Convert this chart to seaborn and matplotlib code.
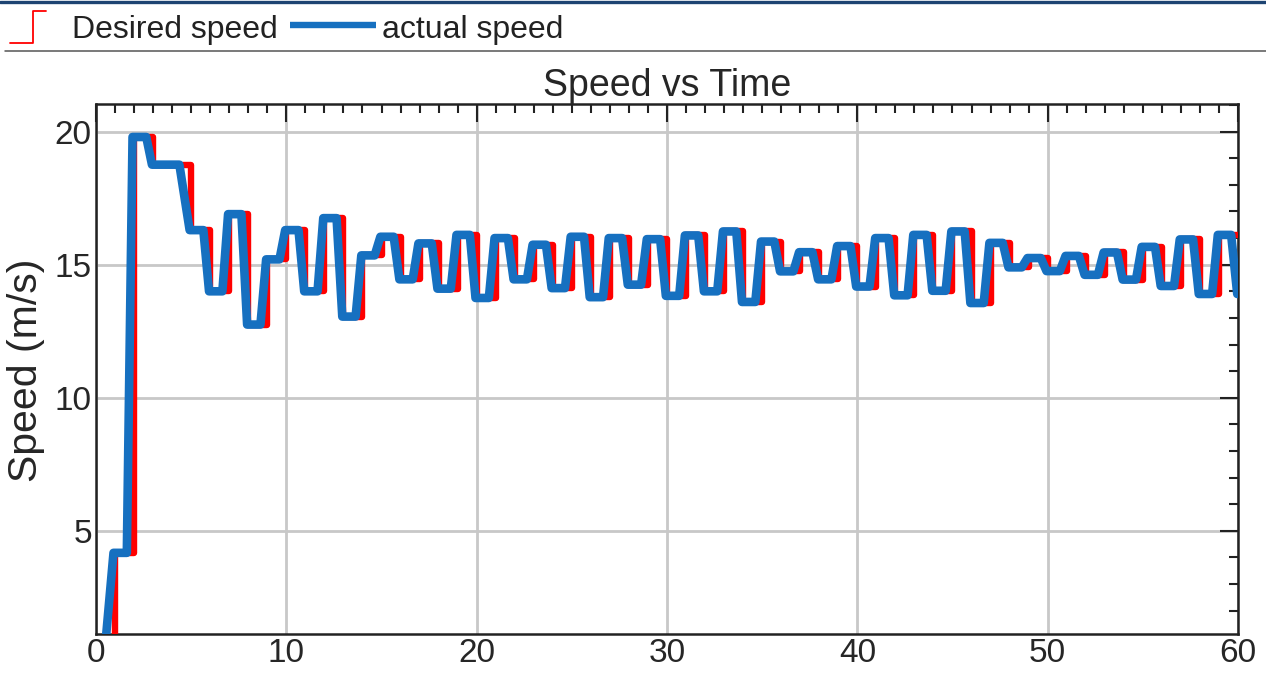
import matplotlib
matplotlib.use("Agg")
import matplotlib.pyplot as plt
from matplotlib.lines import Line2D
from matplotlib.ticker import MultipleLocator
import numpy as np
import pandas as pd
import seaborn as sns

# Desired speed, one set-point per second (held until the next second)
desired_time = list(range(0, 61))
desired_speed = [
    0.00, 4.17, 19.80, 18.76, 18.76, 16.30, 14.00, 16.90, 12.75, 15.20,
    16.30, 14.00, 16.75, 13.05, 15.35, 16.05, 14.45, 15.80, 14.10, 16.12,
    13.75, 16.00, 14.45, 15.75, 14.12, 16.05, 13.78, 16.00, 14.25, 15.96,
    13.83, 16.10, 14.00, 16.25, 13.60, 15.87, 14.75, 15.47, 14.45, 15.70,
    14.18, 16.00, 13.85, 16.12, 14.02, 16.25, 13.56, 15.82, 14.90, 15.25,
    14.76, 15.33, 14.62, 15.46, 14.44, 15.67, 14.20, 15.95, 13.90, 16.12,
    16.12,
]

# Measured (actual) speed samples
actual_time = [
    0.00, 0.40, 0.92, 1.62, 1.92, 2.64, 2.94, 4.38, 4.92, 5.64, 5.94,
    6.64, 6.94, 7.64, 7.94, 8.64, 8.94, 9.64, 9.94, 10.64, 10.94,
    11.64, 11.94, 12.64, 12.94, 13.64, 13.94, 14.64, 14.94, 15.64, 15.94,
    16.64, 16.94, 17.64, 17.94, 18.64, 18.94, 19.64, 19.94, 20.64, 20.94,
    21.64, 21.94, 22.64, 22.94, 23.64, 23.94, 24.64, 24.94, 25.64, 25.94,
    26.64, 26.94, 27.64, 27.94, 28.64, 28.94, 29.64, 29.94, 30.64, 30.94,
    31.64, 31.94, 32.64, 32.94, 33.64, 33.94, 34.64, 34.94, 35.64, 35.94,
    36.64, 36.94, 37.64, 37.94, 38.64, 38.94, 39.64, 39.94, 40.64, 40.94,
    41.64, 41.94, 42.64, 42.94, 43.64, 43.94, 44.64, 44.94, 45.64, 45.94,
    46.64, 46.94, 47.64, 47.94, 48.64, 48.94, 49.64, 49.94, 50.64, 50.94,
    51.64, 51.94, 52.64, 52.94, 53.64, 53.94, 54.64, 54.94, 55.64, 55.94,
    56.64, 56.94, 57.64, 57.94, 58.64, 58.94, 59.64, 59.96,
]
actual_speed = [
    0.00, 0.00, 4.17, 4.17, 19.80, 19.80, 18.76, 18.76, 16.30, 16.30, 14.00,
    14.00, 16.90, 16.90, 12.75, 12.75, 15.20, 15.20, 16.30, 16.30, 14.00,
    14.00, 16.75, 16.75, 13.05, 13.05, 15.35, 15.35, 16.05, 16.05, 14.45,
    14.45, 15.80, 15.80, 14.10, 14.10, 16.12, 16.12, 13.75, 13.75, 16.00,
    16.00, 14.45, 14.45, 15.75, 15.75, 14.12, 14.12, 16.05, 16.05, 13.78,
    13.78, 16.00, 16.00, 14.25, 14.25, 15.96, 15.96, 13.83, 13.83, 16.10,
    16.10, 14.00, 14.00, 16.25, 16.25, 13.60, 13.60, 15.87, 15.87, 14.75,
    14.75, 15.47, 15.47, 14.45, 14.45, 15.70, 15.70, 14.18, 14.18, 16.00,
    16.00, 13.85, 13.85, 16.12, 16.12, 14.02, 14.02, 16.25, 16.25, 13.56,
    13.56, 15.82, 15.82, 14.90, 14.90, 15.25, 15.25, 14.76, 14.76, 15.33,
    15.33, 14.62, 14.62, 15.46, 15.46, 14.44, 14.44, 15.67, 15.67, 14.20,
    14.20, 15.95, 15.95, 13.90, 13.90, 16.12, 16.12, 13.90,
]

x_ticks = [0, 10, 20, 30, 40, 50, 60]
y_ticks = [5, 10, 15, 20]
series_labels = ["Desired speed", "actual speed"]

RED = "#ff0000"
BLUE = "#1670c0"
W, H = 1266, 674

sns.set_theme(style="white")
plt.rcParams["font.family"] = ["Liberation Sans", "DejaVu Sans"]

desired_df = pd.DataFrame({"time": desired_time, "speed": desired_speed})
actual_df = pd.DataFrame({"time": actual_time, "speed": actual_speed})

fig = plt.figure(figsize=(W / 100, H / 100), dpi=100)
ax = fig.add_axes([96 / W, 1 - 634 / H, (1238 - 96) / W, (634 - 104) / H])

sns.lineplot(data=desired_df, x="time", y="speed", drawstyle="steps-post",
             color=RED, lw=4.6, estimator=None, ax=ax, zorder=3)
sns.lineplot(data=actual_df, x="time", y="speed", color=BLUE, lw=6.2,
             estimator=None, sort=False, ax=ax, zorder=4)

ax.set_xlim(0, 60)
ax.set_ylim(1.12, 21.04)
ax.set_xticks(x_ticks)
ax.set_yticks(y_ticks)
ax.xaxis.set_minor_locator(MultipleLocator(1))
ax.yaxis.set_minor_locator(MultipleLocator(1))
ax.tick_params(which="both", direction="in", top=True, right=True,
               color="#222222", width=1.5)
ax.tick_params(which="major", length=13, labelsize=24, pad=3)
ax.tick_params(which="minor", length=6.5)
ax.grid(which="major", color="#c8c8c8", lw=2)
ax.set_axisbelow(True)
for sp in ax.spines.values():
    sp.set_color("#222222")
    sp.set_linewidth(1.8)

ax.set_xlabel("")
ax.set_ylabel("Speed (m/s)", fontsize=29.5)
ax.yaxis.set_label_coords(-0.045, 0.498)
ax.set_title("Speed vs Time", fontsize=27, pad=6)

# Legend strip above the axes
fig.add_artist(Line2D([0, 1], [1 - 1.5 / H] * 2, transform=fig.transFigure,
                      color="#1d4472", lw=2.4))
fig.add_artist(Line2D([5 / W, 1], [1 - 50.5 / H] * 2, transform=fig.transFigure,
                      color="#555555", lw=1.1))
step_x = np.array([10, 33, 33, 46]) / W
step_y = 1 - np.array([43, 43, 11, 11]) / H
fig.add_artist(Line2D(step_x, step_y, transform=fig.transFigure,
                      color=RED, lw=1.3))
fig.add_artist(Line2D([290 / W, 376 / W], [1 - 25 / H] * 2,
                      transform=fig.transFigure, color=BLUE, lw=4.6,
                      solid_capstyle="butt"))
fig.text(72 / W, 1 - 38 / H, series_labels[0], fontsize=23, va="baseline",
         color="#222222")
fig.text(382 / W, 1 - 38 / H, series_labels[1], fontsize=23, va="baseline",
         color="#222222")

fig.savefig("out.png", dpi=100)
